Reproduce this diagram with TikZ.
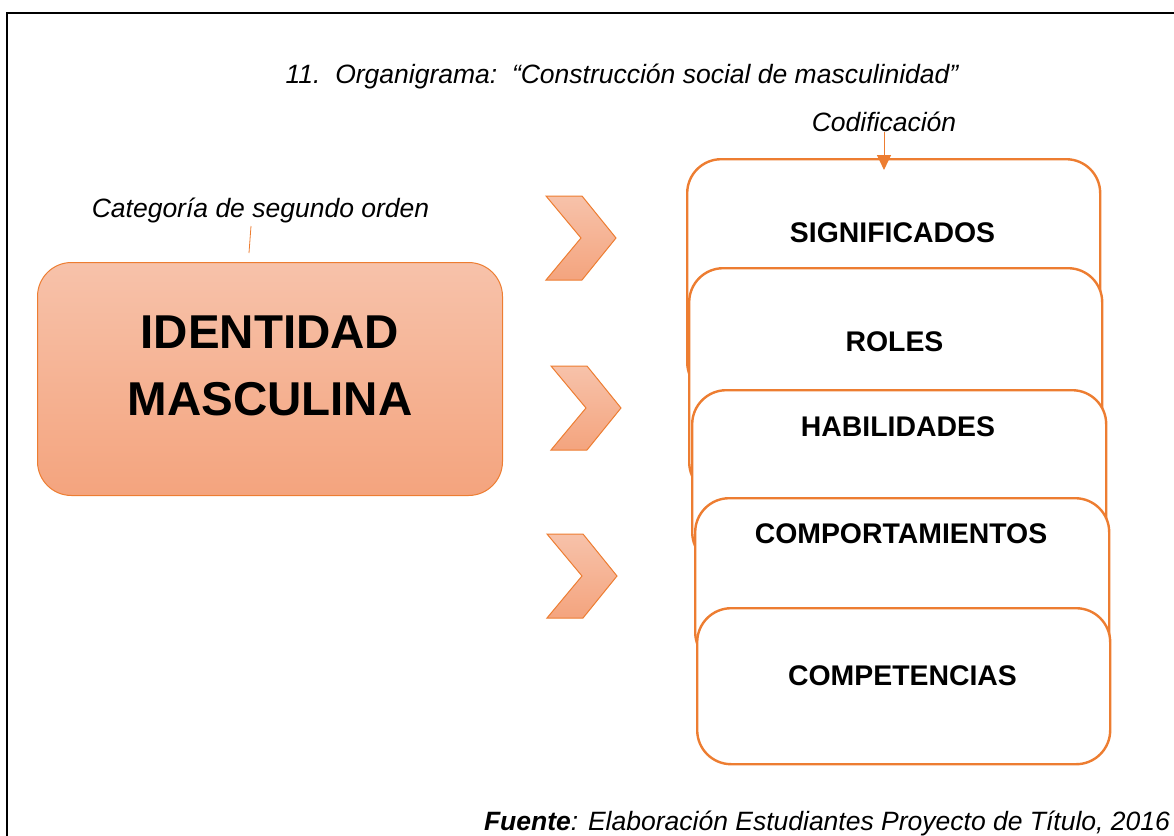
\documentclass[tikz,border=0pt]{standalone}
\usepackage{fontspec}
\setmainfont{Liberation Sans}
\usetikzlibrary{arrows.meta}
\definecolor{naranja}{RGB}{237,125,49}
\definecolor{salmonA}{RGB}{247,194,170}
\definecolor{salmonB}{RGB}{244,164,126}
\tikzset{
 codbox/.style={draw=naranja, line width=1.2pt, fill=white, rounded corners=17pt, anchor=north west, inner sep=0pt},
 codtxt/.style={font=\fontsize{14.2}{17}\selectfont\bfseries, anchor=base, inner sep=0pt},
 nota/.style={font=\fontsize{13.25}{16}\selectfont\itshape, anchor=base, inner sep=0pt},
 chev/.style={draw=naranja, line width=0.5pt, top color=salmonA, bottom color=salmonB},
}

\begin{document}
\begin{tikzpicture}[x=0.5pt,y=-0.5pt]
 \useasboundingbox (0,0) rectangle (1174,836);
 \draw[line width=1.25pt] (7,836) -- (7,13) -- (1174,13); %marco

 \node[nota] (titulo) at (622,83) {11.\ \ Organigrama:\ \ “Construcción social de masculinidad”}; %titulo

 % categoria de segundo orden
 \node[nota] (cat) at (260.5,217) {Categoría de segundo orden};
 \coordinate (catA) at (251,226);
 \coordinate (catB) at (249,253);
 \draw[naranja, line width=0.4pt] (catA) -- (catB);
 \node[draw=naranja, line width=0.5pt, rounded corners=17pt, top color=salmonA, bottom color=salmonB,
   minimum width=232.5pt, minimum height=116.5pt, anchor=north west] (identidad) at (37,262) {};
 \node[font=\fontsize{23.75}{33.5}\selectfont\bfseries, align=center, inner sep=0pt] (identT) at (270,365.5) {IDENTIDAD\\MASCULINA};

 % flechas
 \foreach \cx/\cy in {546/238, 551/408, 547/576}
   \draw[chev] (\cx,\cy-42) -- ++(36,0) -- ++(34,42) -- ++(-34,42) -- ++(-36,0) -- ++(35,-42) -- cycle;

 % codificacion
 \foreach \n/\x/\y/\w/\h in {sig/686/158/413/237, rol/688/267/413/228, hab/691/389/414/176, com/694/497/414/168, cpt/696/607/413/156}
   \node[codbox, minimum width=\w*0.5pt, minimum height=\h*0.5pt] (\n) at (\x,\y) {};
 \node[codtxt] (sigT) at (892.5,242) {SIGNIFICADOS};
 \node[codtxt] (rolT) at (894.5,351) {ROLES};
 \node[codtxt] (habT) at (898,436) {HABILIDADES};
 \node[codtxt] (comT) at (901,543) {COMPORTAMIENTOS};
 \node[codtxt] (cptT) at (902.5,685) {COMPETENCIAS};

 \node[nota] (cod) at (884,131) {Codificación};
 \coordinate (codtip) at (884,170);
 \draw[naranja, line width=0.5pt, -{Triangle[width=7pt,length=7.5pt]}] (cod.south) -- (codtip);

 \node[nota] (fuente) at (827,830) {\textbf{Fuente}: Elaboración Estudiantes Proyecto de Título, 2016}; %fuente
\end{tikzpicture}
\end{document}
